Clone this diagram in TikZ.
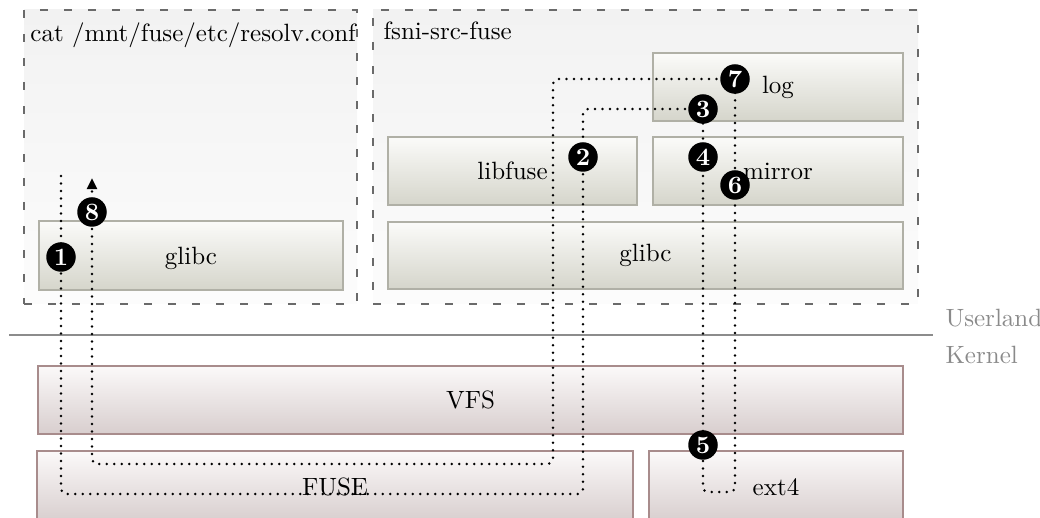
\documentclass[tikz,border=0pt]{standalone}
\usetikzlibrary{arrows.meta,fit}

\definecolor{uborder}{HTML}{B0B0A6}
\definecolor{utop}{HTML}{FBFBF9}
\definecolor{ubot}{HTML}{D5D5CB}
\definecolor{kborder}{HTML}{A88C8C}
\definecolor{ktop}{HTML}{FBF9F9}
\definecolor{kbot}{HTML}{D8CECE}
\definecolor{ptop}{HTML}{F2F2F2}
\definecolor{pbot}{HTML}{FCFCFC}
\definecolor{dashgray}{HTML}{6A6A6A}
\definecolor{sepgray}{HTML}{8C8C8C}
\definecolor{lblgray}{HTML}{8A8A8A}

\tikzset{
  ubox/.style={draw=uborder, top color=utop, bottom color=ubot, line width=0.6pt, inner sep=0pt},
  kbox/.style={draw=kborder, top color=ktop, bottom color=kbot, line width=0.6pt, inner sep=0pt},
  proc/.style={draw=dashgray, dash pattern=on 3pt off 6.6pt, line width=0.7pt,
               top color=ptop, bottom color=pbot, inner sep=0pt},
  title/.style={anchor=base west, inner sep=0pt},
  layer/.style={anchor=west, text=lblgray, inner sep=0pt},
  boxtext/.style={inner sep=0pt},
  flow/.style={line width=1.1pt, dash pattern=on 0pt off 3pt, line cap=round, rounded corners=2pt},
  badge/.style={circle, fill=black, text=white, font=\bfseries, inner sep=0pt, minimum size=11.8pt},
}

\begin{document}
\begin{tikzpicture}[x=0.4pt,y=-0.4pt]
\clip (0,0) rectangle (1040,518);

% process containers
\node[proc, fit={(24,10) (357,304)}] (catproc) {};
\node[proc, fit={(373,10) (918,304)}] (fuseproc) {};
\node[title] (cattitle) at (30,42) {cat /mnt/fuse/etc/resolv.conf};
\node[title] (fusetitle) at (383,40) {fsni-src-fuse};

% userland libraries
\node[ubox, fit={(39,221) (343,290)}] (glibcA) {};
\node[ubox, fit={(653,53) (903,121)}] (log) {};
\node[ubox, fit={(388,137) (637,205)}] (libfuse) {};
\node[ubox, fit={(653,137) (903,205)}] (mirror) {};
\node[ubox, fit={(388,222) (903,289)}] (glibcB) {};
\node[boxtext] (glibcAlbl) at ([yshift=-1pt]glibcA.center) {glibc};
\node[boxtext] (loglbl) at (log.center) {log};
\node[boxtext] (libfuselbl) at (libfuse.center) {libfuse};
\node[boxtext] (mirrorlbl) at (mirror.center) {mirror};
\node[boxtext] (glibcBlbl) at (glibcB.center) {glibc};

% userland / kernel boundary
\coordinate (sepL) at (9,335);
\coordinate (sepR) at (933,335);
\draw[sepgray, line width=1pt] (sepL) -- (sepR);
\node[layer] (userland) at (945,318) {Userland};
\node[layer] (kernel) at (945,355) {Kernel};

% kernel layers
\node[kbox, fit={(38,366) (903,434)}] (vfs) {};
\node[kbox, fit={(37,451) (633,522)}] (fuse) {};
\node[kbox, fit={(649,451) (903,522)}] (ext4) {};
\node[boxtext] (vfslbl) at (vfs.center) {VFS};
\node[boxtext] (fuselbl) at (335,487) {FUSE};
\node[boxtext] (ext4lbl) at (776,487) {ext4};

% step positions and bends of the request path
\coordinate (p1) at (61,257);
\coordinate (p2) at (583,157);
\coordinate (p3) at (703,109);
\coordinate (p4) at (703,157);
\coordinate (p5) at (703,445);
\coordinate (p6) at (735,185);
\coordinate (p7) at (735,79);
\coordinate (p8) at (92,212);
\coordinate (start) at (61,176);
\coordinate (tip) at (92,178);
\coordinate (b1) at (61,494);
\coordinate (b2) at (583,494);
\coordinate (b3) at (583,109);
\coordinate (b4) at (703,492);
\coordinate (b5) at (735,492);
\coordinate (b6) at (553,79);
\coordinate (b7) at (553,464);
\coordinate (b8) at (92,464);

% request path
\draw[flow, -{Triangle[length=4.5pt,width=4pt]}]
  (start) -- (p1) -- (b1) -- (b2) -- (p2) -- (b3) -- (p3)
  -- (p4) -- (p5) -- (b4) -- (b5) -- (p6) -- (p7)
  -- (b6) -- (b7) -- (b8) -- (p8) -- (tip);

% step badges
\node[badge] (c1) at (p1) {1};
\node[badge] (c2) at (p2) {2};
\node[badge] (c3) at (p3) {3};
\node[badge] (c4) at (p4) {4};
\node[badge] (c5) at (p5) {5};
\node[badge] (c6) at (p6) {6};
\node[badge] (c7) at (p7) {7};
\node[badge] (c8) at (p8) {8};
\end{tikzpicture}
\end{document}
